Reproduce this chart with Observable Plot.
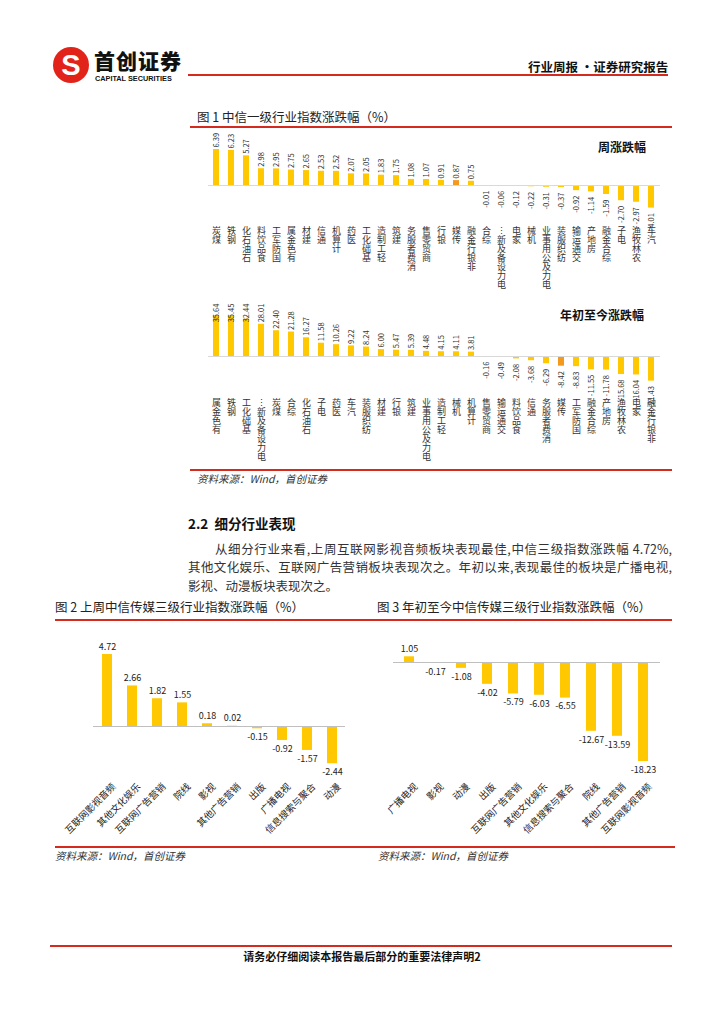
<!DOCTYPE html>
<html><head><meta charset="utf-8">
<script src="https://cdn.jsdelivr.net/npm/d3@7"></script>
<script src="https://cdn.jsdelivr.net/npm/@observablehq/plot@0.6"></script>
<style>
body{margin:0;background:#fff;font-family:"Noto Sans CJK SC","Noto Sans",sans-serif;}
#page{position:relative;width:724px;height:1024px;overflow:hidden;background:#fff;}
.a{position:absolute;line-height:1;white-space:nowrap;}
.red{position:absolute;background:#D52B1E;}
.cap{font-style:italic;font-size:10.5px;color:#333;}
.ttl{font-size:12.5px;color:#222;}
.jl{text-align:justify;text-align-last:justify;white-space:normal;}
</style></head><body><div id="page">
<svg class="a" style="left:52px;top:46px" width="38" height="38"><circle cx="19" cy="19" r="18" fill="#E2231A"/><text x="19" y="29" text-anchor="middle" font-size="29" font-weight="900" font-family="Liberation Sans" fill="#fff">S</text></svg>
<div class="a" style="left:94px;top:50px;font-size:21px;font-weight:900;letter-spacing:1px;color:#111">首创证券</div>
<div class="a" style="left:95px;top:75px;font-size:7.3px;font-weight:700;font-family:'Liberation Sans';color:#111">CAPITAL SECURITIES</div>
<div class="red" style="left:188px;top:74px;width:480px;height:2px"></div>
<div class="a" style="left:528px;top:61px;font-size:12.5px;font-weight:700;color:#111">行业周报 ·证券研究报告</div>

<div class="a ttl" style="left:197px;top:111px">图 1 中信一级行业指数涨跌幅（%）</div>
<div class="red" style="left:190px;top:126px;width:482px;height:1.5px"></div>
<div class="a" style="left:598px;top:141px;font-size:12px;font-weight:700;color:#111">周涨跌幅</div>
<div class="a" style="left:560px;top:309px;font-size:12px;font-weight:700;color:#111">年初至今涨跌幅</div>
<div id="c1" class="a" style="left:190px;top:128px"></div>
<div id="l1" class="a" style="left:190px;top:225px"></div>
<div id="c2" class="a" style="left:190px;top:300px"></div>
<div id="l2" class="a" style="left:190px;top:397px"></div>
<div class="red" style="left:190px;top:469px;width:482px;height:1.5px"></div>
<div class="a cap" style="left:197px;top:474px">资料来源：Wind，首创证券</div>

<div class="a" style="left:188px;top:517px;font-size:13.5px;font-weight:700;color:#111">2.2&nbsp;&nbsp;细分行业表现</div>
<div class="a jl" style="left:215px;top:543px;width:457px;font-size:12.5px;color:#333">从细分行业来看,上周互联网影视音频板块表现最佳,中信三级指数涨跌幅 4.72%,</div>
<div class="a jl" style="left:188px;top:561px;width:484px;font-size:12.5px;color:#333">其他文化娱乐、互联网广告营销板块表现次之。年初以来,表现最佳的板块是广播电视,</div>
<div class="a" style="left:188px;top:580px;font-size:12.5px;color:#333">影视、动漫板块表现次之。</div>

<div class="a ttl" style="left:55px;top:601px">图 2 上周中信传媒三级行业指数涨跌幅（%）</div>
<div class="a ttl" style="left:377px;top:601px">图 3 年初至今中信传媒三级行业指数涨跌幅（%）</div>
<div class="red" style="left:55px;top:619px;width:617px;height:1.5px"></div>
<div id="c3" class="a" style="left:50px;top:630px"></div>
<div id="c4" class="a" style="left:370px;top:630px"></div>
<div class="red" style="left:55px;top:846px;width:620px;height:1.5px"></div>
<div class="a cap" style="left:55px;top:851px">资料来源：Wind，首创证券</div>
<div class="a cap" style="left:378px;top:851px">资料来源：Wind，首创证券</div>

<div class="red" style="left:50px;top:945px;width:622px;height:1.5px"></div>
<div class="a" style="left:0;width:724px;text-align:center;top:951px;font-size:11px;font-weight:700;color:#111">请务必仔细阅读本报告最后部分的重要法律声明2</div>
</div>
<script>
const weeklyNames = ["煤炭","钢铁","石油石化","食品饮料","国防军工","有色金属","建材","通信","计算机","医药","基础化工","轻工制造","建筑","消费者服务","商贸零售","银行","传媒","非银行金融","综合","电力设备及新能源","家电","机械","电力及公用事业","纺织服装","交通运输","房地产","综合金融","电子","农林牧渔","汽车"];
const weeklyValues = [6.39,6.23,5.27,2.98,2.95,2.75,2.65,2.53,2.52,2.07,2.05,1.83,1.75,1.08,1.07,0.91,0.87,0.75,-0.01,-0.06,-0.12,-0.22,-0.31,-0.37,-0.92,-1.14,-1.59,-2.70,-2.97,-4.01];
const ytdNames = ["有色金属","钢铁","基础化工","电力设备及新能源","煤炭","综合","石油石化","电子","医药","汽车","纺织服装","建材","银行","建筑","电力及公用事业","轻工制造","机械","计算机","商贸零售","交通运输","食品饮料","通信","消费者服务","传媒","国防军工","综合金融","房地产","农林牧渔","家电","非银行金融"];
const ytdValues = [35.64,35.45,32.44,28.01,22.40,21.28,16.27,11.58,10.26,9.22,8.24,6.00,5.47,5.39,4.48,4.15,4.11,3.81,-0.16,-0.49,-2.08,-3.68,-6.29,-8.42,-8.83,-11.55,-11.78,-15.68,-16.04,-21.43];
const mediaWeekNames = ["互联网影视音频","其他文化娱乐","互联网广告营销","院线","影视","其他广告营销","出版","广播电视","信息搜索与聚合","动漫"];
const mediaWeekValues = [4.72,2.66,1.82,1.55,0.18,0.02,-0.15,-0.92,-1.57,-2.44];
const mediaYtdNames = ["广播电视","影视","动漫","出版","互联网广告营销","其他文化娱乐","信息搜索与聚合","院线","其他广告营销","互联网影视音频"];
const mediaYtdValues = [1.05,-0.17,-1.08,-4.02,-5.79,-6.03,-6.55,-12.67,-13.59,-18.23];
const highlight = "传媒";

const YELLOW = "#FFC800", ORANGE = "#F39A1E", TXT = "#333";
const FONT = "'Noto Sans CJK SC', 'Noto Sans', sans-serif";
const fmt = v => v.toFixed(2);
const rows = (names, values) => names.map((name, i) => ({name, value: values[i]}));
const X_OPTS = names => ({domain: names, range: [18, 469], paddingInner: 0.6, paddingOuter: 0.3, axis: null});

function industryChart(data, opt) {
  return Plot.plot({
    width: 500, height: opt.height, marginTop: 0, marginBottom: 0, marginLeft: 18, marginRight: 30,
    x: X_OPTS(data.map(d => d.name)),
    y: {domain: [0, 10], range: [opt.zero, opt.zero - opt.per10], axis: null},
    color: {type: "identity"},
    style: {background: "transparent", overflow: "visible", fontFamily: FONT},
    marks: [
      Plot.barY(data, {x: "name", y: "value", fill: d => d.name === highlight ? ORANGE : YELLOW}),
      Plot.ruleY([0], {stroke: "#d9d9d9", strokeWidth: 1}),
      Plot.text(data.filter(d => d.value >= 0), {x: "name", y: d => Math.min(d.value, opt.cap), text: d => fmt(d.value), rotate: -90, textAnchor: "start", dy: -2, fontSize: 7.5, fill: TXT}),
      Plot.text(data.filter(d => d.value < 0), {x: "name", y: "value", text: d => fmt(d.value), rotate: -90, textAnchor: "end", dy: 5, fontSize: 7.5, fill: TXT})
    ]
  });
}
// category labels: upright glyphs stacked so that the name reads bottom-to-top (as in the reference)
function labelStrip(names) {
  const cells = [];
  names.forEach(name => {
    let c = [...name];
    if (c.length > 7) c = c.slice(0, 6).concat("⋮");
    c.reverse().forEach((ch, k) => cells.push({name, k, ch}));
  });
  return Plot.plot({
    width: 500, height: 70, marginTop: 0, marginBottom: 0, marginLeft: 18, marginRight: 30,
    x: X_OPTS(names),
    y: {type: "band", domain: d3.range(7), range: [0, 7 * 9.3], padding: 0, axis: null},
    style: {background: "transparent", overflow: "visible", fontFamily: FONT},
    marks: [Plot.text(cells, {x: "name", y: "k", text: "ch", fontSize: 9, fill: TXT})]
  });
}
document.getElementById("c1").append(industryChart(rows(weeklyNames, weeklyValues), {height: 172, zero: 57, per10: 56.3, cap: 100}));
document.getElementById("l1").append(labelStrip(weeklyNames));
document.getElementById("c2").append(industryChart(rows(ytdNames, ytdValues), {height: 170, zero: 56, per10: 11.5, cap: 28}));
document.getElementById("l2").append(labelStrip(ytdNames));

function mediaChart(data, opt) {
  return Plot.plot({
    width: 310, height: 210, marginTop: 0, marginBottom: 0, marginLeft: opt.ml, marginRight: 310 - opt.mr,
    x: {domain: data.map(d => d.name), range: [opt.ml, opt.mr], paddingInner: 0.6, paddingOuter: 0.3, axis: null},
    y: {domain: [0, 1], range: [opt.zero, opt.zero - opt.per1], axis: null},
    style: {background: "transparent", overflow: "visible", fontFamily: FONT},
    marks: [
      Plot.barY(data, {x: "name", y: "value", fill: YELLOW}),
      Plot.ruleY([0], {stroke: "#bfbfbf", strokeWidth: 1}),
      Plot.text(data.filter(d => d.value >= 0), {x: "name", y: "value", text: d => fmt(d.value), dy: -5, lineAnchor: "bottom", fontSize: 9, fill: "#222"}),
      Plot.text(data.filter(d => d.value < 0), {x: "name", y: "value", text: d => fmt(d.value), dy: 5, lineAnchor: "top", fontSize: 9, fill: "#222"}),
      Plot.text(data, {x: "name", frameAnchor: "top", dy: 152, dx: 4, text: "name", rotate: -45, textAnchor: "end", fontSize: 9.5, fill: "#222"})
    ]
  });
}
document.getElementById("c3").append(mediaChart(rows(mediaWeekNames, mediaWeekValues), {ml: 43, mr: 295, zero: 96, per1: 15.25}));
document.getElementById("c4").append(mediaChart(rows(mediaYtdNames, mediaYtdValues), {ml: 23, mr: 290, zero: 32, per1: 5.43}));
</script>
</body></html>
